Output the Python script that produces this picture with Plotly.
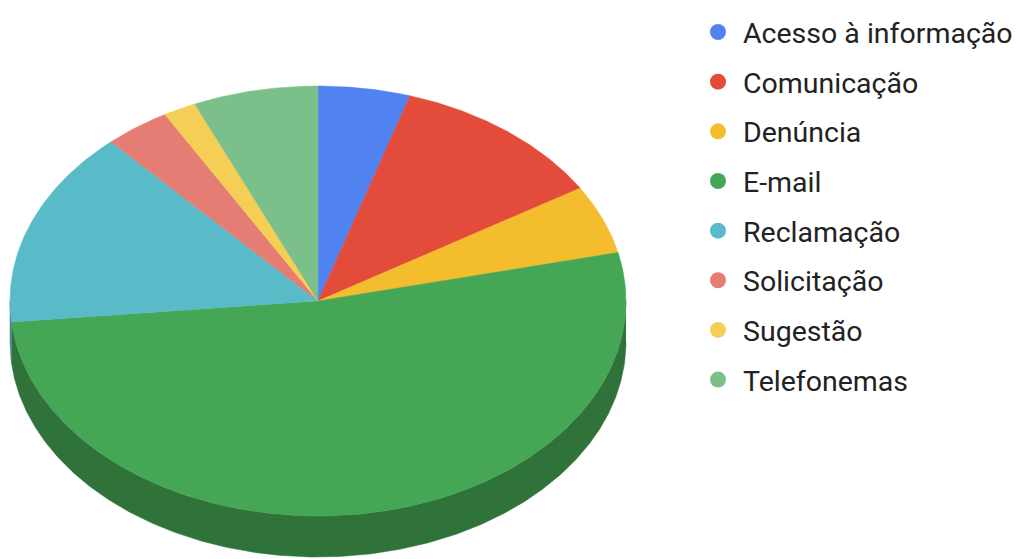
import numpy as np
import plotly.graph_objects as go

labels = ["Acesso à informação", "Comunicação", "Denúncia", "E-mail",
          "Reclamação", "Solicitação", "Sugestão", "Telefonemas"]
values = [14, 33, 15, 151, 43, 10, 5, 19]
colors = ["#5083ef", "#e34c3b", "#f3bd2d", "#45a755",
          "#58bbc7", "#e67d74", "#f5cf55", "#7bc08b"]
side_colors = ["#3a5fae", "#a6382b", "#b38b21", "#2f733b",
               "#408993", "#a95c55", "#b4983e", "#5a8d66"]

W, H = 1019, 559
cx, cy, rx, ry, depth = 318, 301, 308, 215, 41

def pt(a):
    r = np.radians(a)
    return cx + rx * np.sin(r), cy - ry * np.cos(r)

total = sum(values)
bounds = np.concatenate([[0], np.cumsum(values) / total * 360])

fig = go.Figure()

# side walls (front half: 90..270 deg)
for i in range(len(values)):
    a0, a1 = max(bounds[i], 90), min(bounds[i + 1], 270)
    if a1 <= a0:
        continue
    ang = np.linspace(a0, a1, max(4, int((a1 - a0) * 2)))
    xs, ys = pt(ang)
    px = np.concatenate([xs, xs[::-1]])
    py = np.concatenate([ys, ys[::-1] + depth])
    fig.add_trace(go.Scatter(x=px, y=py, fill="toself", mode="lines",
                             line=dict(width=0.5, color=side_colors[i]),
                             fillcolor=side_colors[i], showlegend=False,
                             hoverinfo="skip"))

# top faces
for i in range(len(values)):
    a0, a1 = bounds[i], bounds[i + 1]
    ang = np.linspace(a0, a1, max(4, int((a1 - a0) * 2)))
    xs, ys = pt(ang)
    px = np.concatenate([[cx], xs, [cx]])
    py = np.concatenate([[cy], ys, [cy]])
    fig.add_trace(go.Scatter(x=px, y=py, fill="toself", mode="lines",
                             line=dict(width=0.5, color=colors[i]),
                             fillcolor=colors[i], showlegend=False,
                             name=labels[i], hoverinfo="name"))

# legend entries
for i, lab in enumerate(labels):
    fig.add_trace(go.Scatter(x=[None], y=[None], mode="markers", name=lab,
                             legendgroup=lab,
                             marker=dict(size=20, color=colors[i], symbol="circle")))

fig.update_layout(
    width=W, height=H,
    margin=dict(l=0, r=0, t=0, b=0),
    paper_bgcolor="white", plot_bgcolor="white",
    xaxis=dict(range=[0, W], visible=False, fixedrange=True),
    yaxis=dict(range=[H, 0], visible=False, fixedrange=True),
    showlegend=True,
    legend=dict(x=693 / W, y=1 - 7 / H, xanchor="left", yanchor="top",
                font=dict(family="Roboto", size=28.5, color="#222222"),
                itemwidth=40, tracegroupgap=9.6, bgcolor="rgba(0,0,0,0)"),
)

fig.write_html("out.html")
